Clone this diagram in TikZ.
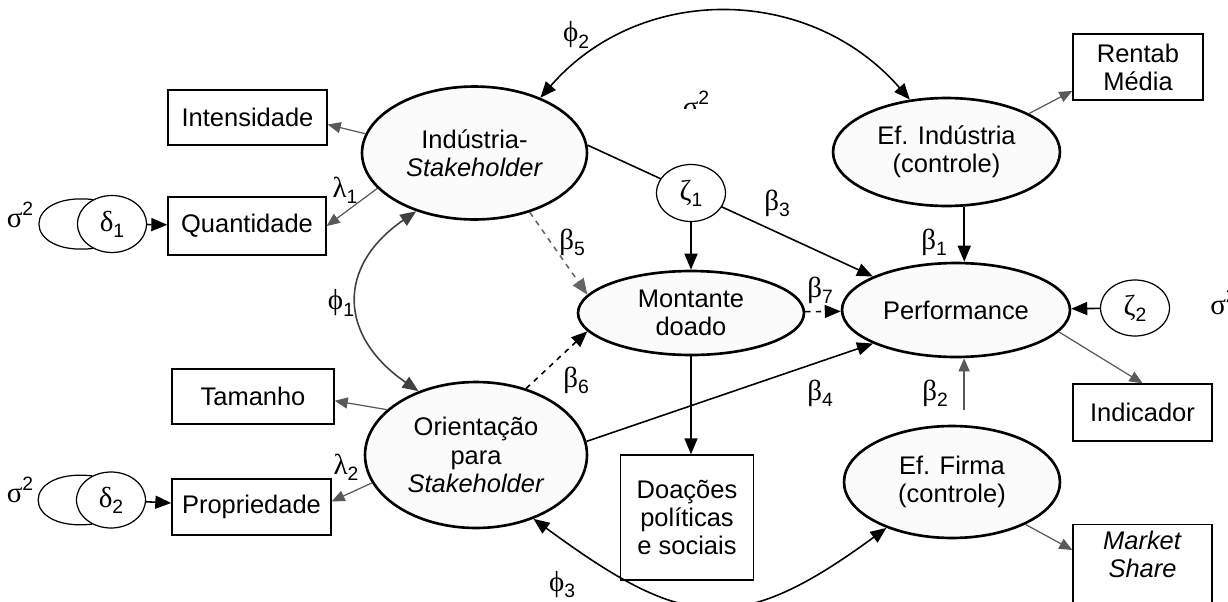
\documentclass[tikz,border=0pt]{standalone}
\usepackage{fontspec}
\setmainfont{Liberation Sans}
\newfontfamily\grk{Liberation Serif}
\usetikzlibrary{arrows.meta,shapes.geometric}
\newcommand{\gsub}[2]{{\grk\fontsize{16.5}{18}\selectfont #1}\raisebox{-0.45ex}{\fontsize{11}{11}\selectfont #2}}
\newcommand{\gsup}[2]{{\grk\fontsize{16.5}{18}\selectfont #1}\raisebox{0.9ex}{\fontsize{11}{11}\selectfont #2}}

\begin{document}
\begin{tikzpicture}[x=0.02cm, y=-0.02cm,
  font=\fontsize{14.5}{16}\selectfont,
  lat/.style={ellipse, draw, line width=1.5pt, fill=gray!3, align=center, inner sep=0pt},
  obs/.style={draw, line width=0.8pt, fill=white, align=center, inner sep=0pt},
  err/.style={ellipse, draw, line width=0.7pt, fill=white, inner sep=0pt,
    minimum width=1.38cm, minimum height=1.14cm},
  arrow/.style={-{Triangle[length=3.2mm, width=2.6mm]}, line width=0.9pt},
  load/.style={-{Triangle[length=2.6mm, width=2.2mm]}, line width=0.7pt, black!65},
  cov/.style={{Triangle[length=3.2mm, width=2.6mm]}-{Triangle[length=3.2mm, width=2.6mm]}, line width=0.9pt},
  coef/.style={inner sep=0pt},
  loop/.style={line width=0.7pt}
]
\useasboundingbox (0,0) rectangle (1228,602);

% latent variables
\node[lat, minimum width=4.5cm, minimum height=2.66cm] (ind) at (474.5,153) {Indústria-\\\textit{Stakeholder}};
\node[lat, minimum width=4.44cm, minimum height=2.92cm] (ori) at (476,455) {Orientação\\para\\\textit{Stakeholder}};
\node[lat, minimum width=4.52cm, minimum height=1.68cm] (mon) at (691,313) {Montante\\doado};
\node[lat, minimum width=4.56cm, minimum height=1.88cm] (perf) at (956,310) {Performance};
\node[lat, minimum width=4.54cm, minimum height=2.16cm] (efi) at (946.5,152) {Ef. Indústria\\(controle)};
\node[lat, minimum width=4.32cm, minimum height=2.24cm] (eff) at (952,482) {Ef. Firma\\(controle)};

% indicators
\node[obs, minimum width=3.18cm, minimum height=1.1cm] (int) at (247.5,117.5) {Intensidade};
\node[obs, minimum width=3.16cm, minimum height=1.16cm] (qua) at (247,226) {Quantidade};
\node[obs, minimum width=3.24cm, minimum height=1.1cm] (tam) at (253,396.5) {Tamanho};
\node[obs, minimum width=3.18cm, minimum height=1.12cm] (pro) at (251.5,507) {Propriedade};
\node[obs, minimum width=2.66cm, minimum height=2.5cm] (doa) at (687,517.5) {Doações\\políticas\\e sociais};
\node[obs, minimum width=2.6cm, minimum height=1.32cm] (ren) at (1138,67) {Rentab\\Média};
\node[obs, minimum width=2.78cm, minimum height=1.14cm] (indc) at (1142.5,412.5) {Indicador};
\node[obs, anchor=north, minimum width=2.78cm, inner ysep=0.12cm, text depth=0.6cm] (mks) at (1142.5,524) {\textit{Market}\\\textit{Share}};

% errors
\node[err] (d1) at (112,224) {\gsub{δ}{1}};
\node[err, minimum height=1.12cm] (d2) at (111,500) {\gsub{δ}{2}};
\node[err, minimum height=1.12cm] (z2) at (1135,308) {\gsub{ζ}{2}};

% loadings
\draw[load] (ind.170) -- (int.-5);
\draw[load] (ind.200) -- (qua.east);
\draw[load] (ori.153) -- (tam.-3);
\draw[load] (ori.195) -- (pro.4);
\draw[load] (efi.25) -- (ren.200);
\draw[load] (perf.-12) -- (indc.north);
\draw[load] (eff.-30) -- ([yshift=-0.52cm]mks.north west);
\draw[arrow] (mon.south) -- (mon.south |- doa.north);

% error paths and variances
\draw[arrow] (d1) -- (qua);
\draw[arrow] (d2) -- (pro);
\draw[arrow] (z2) -- (perf);
\draw[loop] (d1.128) .. controls +(-72,-8) and +(-72,8) .. (d1.-128);
\draw[loop] (d2.128) .. controls +(-72,-8) and +(-72,8) .. (d2.-128);

% structural paths
\draw[arrow] (ind.4) -- (perf.158);
\node[err] (z1) at (691,193) {\gsub{ζ}{1}};
\draw[arrow] (z1) -- (mon);
\draw[arrow, dashed, black!60] (ind.-47) -- (mon.170);
\draw[arrow, dashed] (ori.53) -- (mon.190);
\draw[arrow, dashed] (mon) -- (perf);
\draw[arrow] (ori.7) -- (perf.-158);
\draw[arrow] (efi.-72) -- (efi.-72 |- perf.north);
\draw[load, shorten <=0.3cm] (eff.78) -- (eff.78 |- perf.south);

% covariances
\draw[cov] (ind.40) .. controls +(100,-115) and +(-100,-115) .. (efi.125);
\draw[cov, black!75] (ind.-135) .. controls +(-80,55) and +(-80,-55) .. (ori.132);
\draw[cov] (ori.-48) .. controls +(150,110) and +(-150,110) .. (eff.-145);

% coefficients
\node[coef] (phi1) at (341,303) {\gsub{ϕ}{1}};
\node[coef] (phi2) at (576,35) {\gsub{ϕ}{2}};
\node[coef] (phi3) at (562,585) {\gsub{ϕ}{3}};
\node[coef] (lam1) at (345,190) {\gsub{λ}{1}};
\node[coef] (lam2) at (346,467) {\gsub{λ}{2}};
\node[coef] (b1) at (934,242) {\gsub{β}{1}};
\node[coef] (b2) at (935,393) {\gsub{β}{2}};
\node[coef] (b3) at (777,203) {\gsub{β}{3}};
\node[coef] (b4) at (820,393) {\gsub{β}{4}};
\node[coef] (b5) at (572,242) {\gsub{β}{5}};
\node[coef] (b6) at (576,380) {\gsub{β}{6}};
\node[coef] (b7) at (820,290) {\gsub{β}{7}};
\node[coef] (s1) at (20,215) {\gsup{σ}{2}};
\node[coef] (s2) at (20,490) {\gsup{σ}{2}};
\node[coef, anchor=west] (s4) at (1210,302) {\gsup{σ}{2}};
\begin{scope}
  \clip (640,60) rectangle (760,108);
  \node[coef] (s3) at (696,104) {\gsup{σ}{2}};
\end{scope}
\end{tikzpicture}
\end{document}
